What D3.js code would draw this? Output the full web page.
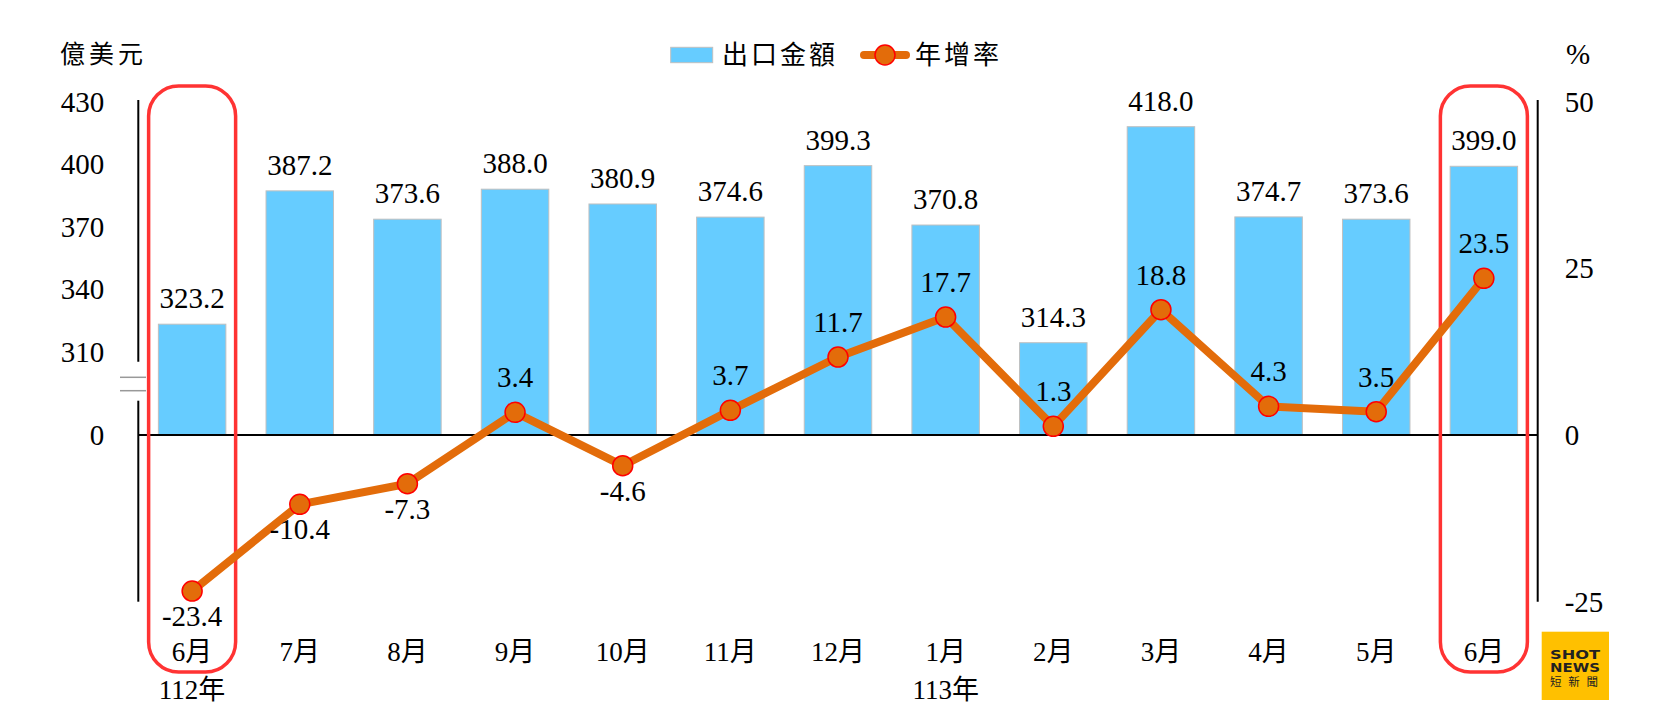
<!DOCTYPE html>
<html>
<head>
<meta charset="utf-8">
<script src="https://cdn.jsdelivr.net/npm/d3@7"></script>
<style>
  html, body { margin: 0; padding: 0; background: #fff; }
  svg { display: block; }
  .num { font-family: "Liberation Serif", "Times New Roman", serif; }
  .cjk { font-family: "Liberation Serif", "Noto Sans CJK TC", serif; }
</style>
</head>
<body>
<svg id="chart" width="1674" height="724"></svg>
<script>
// ---- data ----
const months = ["6月","7月","8月","9月","10月","11月","12月","1月","2月","3月","4月","5月","6月"];
const exportValues = [323.2, 387.2, 373.6, 388.0, 380.9, 374.6, 399.3, 370.8, 314.3, 418.0, 374.7, 373.6, 399.0];
const growthRates = [-23.4, -10.4, -7.3, 3.4, -4.6, 3.7, 11.7, 17.7, 1.3, 18.8, 4.3, 3.5, 23.5];
const leftTicks = [0, 310, 340, 370, 400, 430];
const rightTicks = [-25, 0, 25, 50];
const yearLabels = [{ index: 0, text: "112年" }, { index: 7, text: "113年" }];
const highlighted = [0, 12];

const svg = d3.select("#chart");
const left = 138.3, right = 1537.7;

const x = d3.scaleBand().domain(d3.range(months.length)).range([left, right])
  .paddingInner(0.373).paddingOuter(0.1865);

// broken left axis: 0 sits where 270 would be
const yBar = d3.scaleLinear().domain([0, 270, 430]).range([435, 435, 101.7]);
const yR = d3.scaleLinear().domain([-25, 50]).range([601.7, 101.7]);

const barColor = "#66CCFF";
const lineColor = "#E36C0A";
const rectColor = "#FF3333";

// bars
svg.append("g").selectAll("rect").data(exportValues).join("rect")
  .attr("x", (d, i) => x(i))
  .attr("y", d => yBar(d))
  .attr("width", x.bandwidth())
  .attr("height", d => yBar(0) - yBar(d))
  .attr("fill", barColor)
  .attr("stroke", "#C0C0C0")
  .attr("stroke-width", 1);

// bar labels
svg.append("g").selectAll("text").data(exportValues).join("text")
  .attr("class", "num")
  .attr("x", (d, i) => x(i) + x.bandwidth() / 2)
  .attr("y", d => yBar(d) - 16)
  .attr("text-anchor", "middle")
  .attr("font-size", 29)
  .attr("fill", "#000")
  .text(d => d.toFixed(1));

// zero line
svg.append("line")
  .attr("x1", left).attr("x2", right)
  .attr("y1", yBar(0)).attr("y2", yBar(0))
  .attr("stroke", "#000").attr("stroke-width", 2);

// left axis
const gL = svg.append("g").attr("transform", `translate(${left},0)`)
  .call(d3.axisLeft(yBar).tickValues(leftTicks).tickFormat(d => String(d)).tickSize(0).tickPadding(34));
gL.select(".domain").remove();
gL.selectAll("text").attr("class", "num").attr("font-size", 29).attr("fill", "#000")
  .attr("dy", "0.33em");
svg.append("line").attr("x1", left).attr("x2", left)
  .attr("y1", 100).attr("y2", 361.7).attr("stroke", "#000").attr("stroke-width", 2);
svg.append("line").attr("x1", left).attr("x2", left)
  .attr("y1", 400.7).attr("y2", 601.7).attr("stroke", "#000").attr("stroke-width", 2);
// break marks
[377.3, 390.7].forEach(yy => {
  svg.append("line").attr("x1", 120).attr("x2", 146).attr("y1", yy).attr("y2", yy)
    .attr("stroke", "#999").attr("stroke-width", 1.5);
});

// right axis
const gR = svg.append("g").attr("transform", `translate(${right},0)`)
  .call(d3.axisRight(yR).tickValues(rightTicks).tickFormat(d => String(d)).tickSize(0).tickPadding(27));
gR.select(".domain").remove();
gR.selectAll("text").attr("class", "num").attr("font-size", 29).attr("fill", "#000")
  .attr("dy", "0.33em");
svg.append("line").attr("x1", right).attr("x2", right)
  .attr("y1", 100).attr("y2", 601.7).attr("stroke", "#000").attr("stroke-width", 2);

// axis titles
svg.append("text").attr("class", "cjk").attr("x", 60).attr("y", 63)
  .attr("font-size", 25).attr("letter-spacing", 4).text("億美元");
svg.append("text").attr("class", "num").attr("x", 1566).attr("y", 64)
  .attr("font-size", 29).text("%");

// highlight rounded rectangles
svg.append("g").selectAll("rect").data(highlighted).join("rect")
  .attr("x", i => x(i) + x.bandwidth() / 2 - 43.5)
  .attr("y", 86)
  .attr("width", 87)
  .attr("height", 586)
  .attr("rx", 30).attr("ry", 30)
  .attr("fill", "none")
  .attr("stroke", rectColor)
  .attr("stroke-width", 3.5);

// line
const line = d3.line()
  .x((d, i) => x(i) + x.bandwidth() / 2)
  .y(d => yR(d));
svg.append("path").datum(growthRates)
  .attr("d", line)
  .attr("fill", "none")
  .attr("stroke", lineColor)
  .attr("stroke-width", 8)
  .attr("stroke-linejoin", "round");

svg.append("g").selectAll("circle").data(growthRates).join("circle")
  .attr("cx", (d, i) => x(i) + x.bandwidth() / 2)
  .attr("cy", d => yR(d))
  .attr("r", 10)
  .attr("fill", lineColor)
  .attr("stroke", "#FF0000")
  .attr("stroke-width", 1.5);

svg.append("g").selectAll("text").data(growthRates).join("text")
  .attr("class", "num")
  .attr("x", (d, i) => x(i) + x.bandwidth() / 2)
  .attr("y", d => d >= 0 ? yR(d) - 25 : yR(d) + 35)
  .attr("text-anchor", "middle")
  .attr("font-size", 29)
  .attr("fill", "#000")
  .text(d => d.toFixed(1));

// x labels
svg.append("g").selectAll("text").data(months).join("text")
  .attr("class", "cjk")
  .attr("x", (d, i) => x(i) + x.bandwidth() / 2)
  .attr("y", 661)
  .attr("text-anchor", "middle")
  .attr("font-size", 27)
  .attr("fill", "#000")
  .text(d => d);

svg.append("g").selectAll("text").data(yearLabels).join("text")
  .attr("class", "cjk")
  .attr("x", d => x(d.index) + x.bandwidth() / 2)
  .attr("y", 699)
  .attr("text-anchor", "middle")
  .attr("font-size", 27)
  .attr("fill", "#000")
  .text(d => d.text);

// legend
const lg = svg.append("g");
lg.append("rect").attr("x", 670.7).attr("y", 47.3).attr("width", 42).attr("height", 15.4)
  .attr("fill", barColor).attr("stroke", "#C0C0C0").attr("stroke-width", 1);
lg.append("text").attr("class", "cjk").attr("x", 722).attr("y", 64)
  .attr("font-size", 26).attr("letter-spacing", 3).text("出口金額");
lg.append("line").attr("x1", 864).attr("x2", 906).attr("y1", 55).attr("y2", 55)
  .attr("stroke", lineColor).attr("stroke-width", 8).attr("stroke-linecap", "round");
lg.append("circle").attr("cx", 885).attr("cy", 55).attr("r", 10)
  .attr("fill", lineColor).attr("stroke", "#FF0000").attr("stroke-width", 1.5);
lg.append("text").attr("class", "cjk").attr("x", 915).attr("y", 64)
  .attr("font-size", 26).attr("letter-spacing", 3).text("年增率");

// logo
const logo = svg.append("g");
logo.append("rect").attr("x", 1541.7).attr("y", 631.7).attr("width", 67.3).attr("height", 68.3)
  .attr("fill", "#FFC000");
logo.append("text").attr("x", 1550).attr("y", 658.5)
  .attr("font-family", "DejaVu Sans, sans-serif").attr("font-weight", "bold")
  .attr("font-size", 11.5).attr("textLength", 50).attr("lengthAdjust", "spacingAndGlyphs")
  .attr("fill", "#222").text("SHOT");
logo.append("text").attr("x", 1550).attr("y", 672)
  .attr("font-family", "DejaVu Sans, sans-serif").attr("font-weight", "bold")
  .attr("font-size", 11.5).attr("textLength", 50).attr("lengthAdjust", "spacingAndGlyphs")
  .attr("fill", "#222").text("NEWS");
logo.append("text").attr("x", 1550).attr("y", 686)
  .attr("font-family", "Noto Sans CJK TC, sans-serif")
  .attr("font-size", 11.5).attr("textLength", 48).attr("lengthAdjust", "spacing")
  .attr("fill", "#222").text("短新聞");
</script>
</body>
</html>
